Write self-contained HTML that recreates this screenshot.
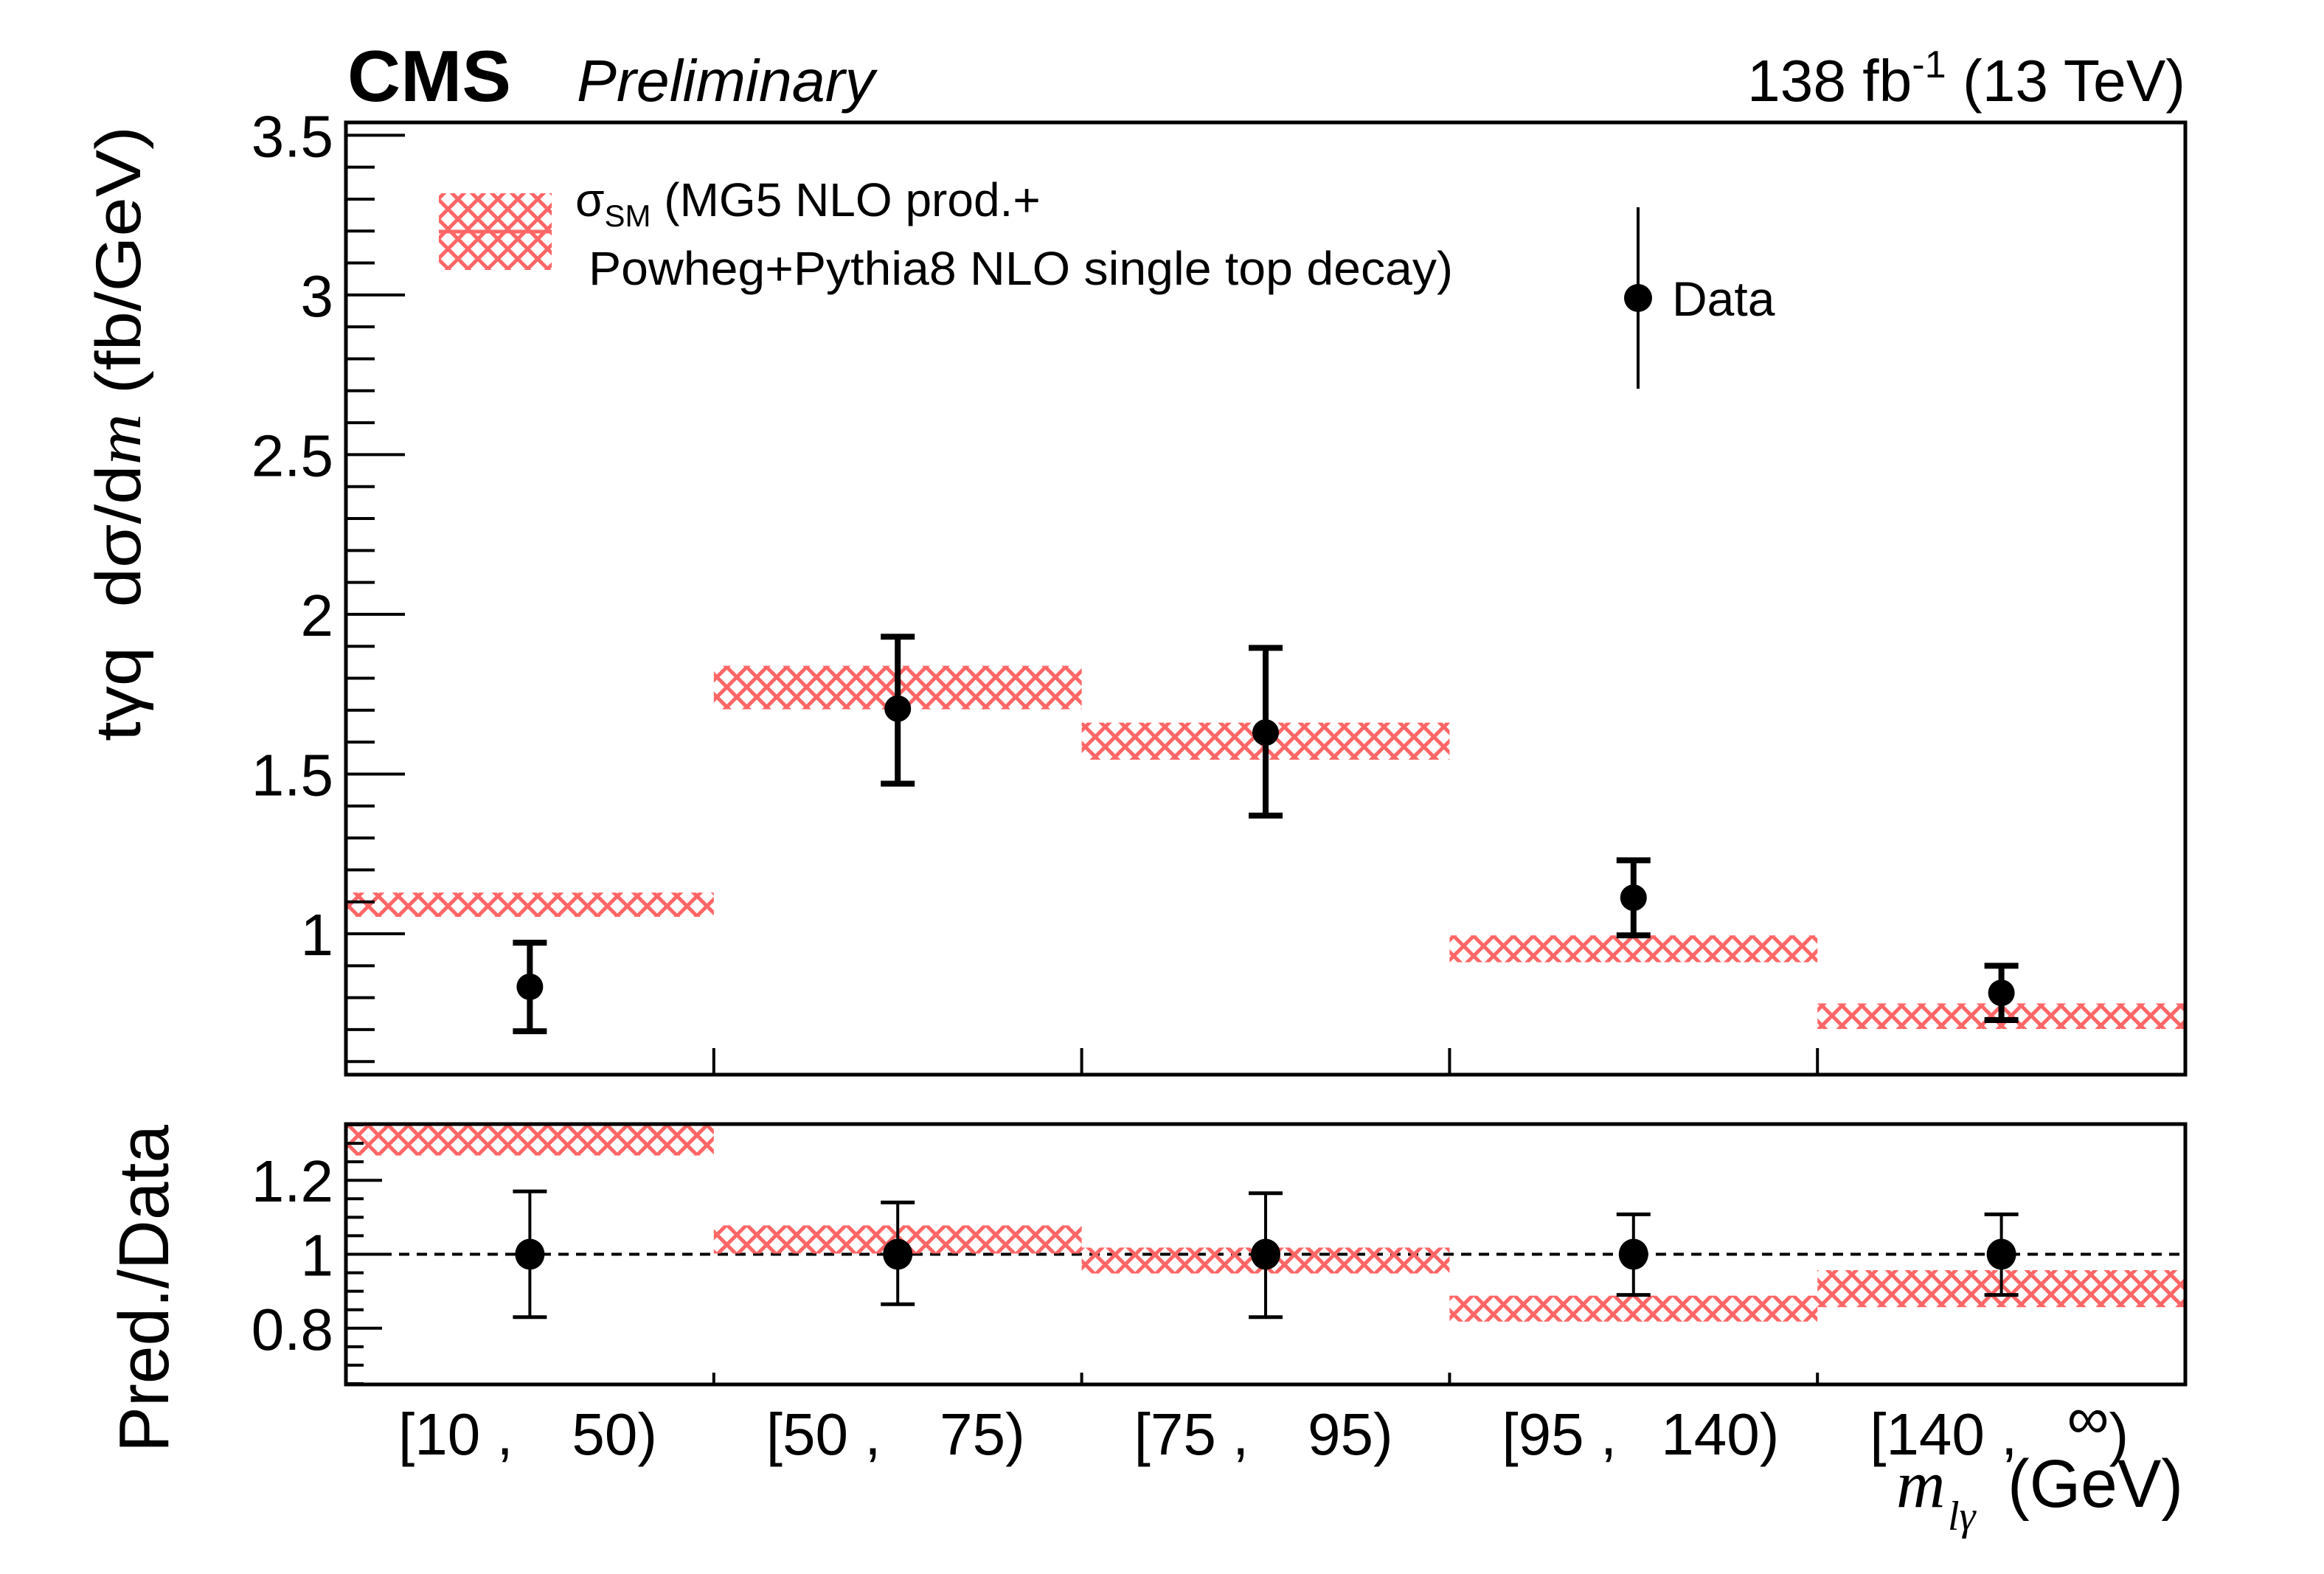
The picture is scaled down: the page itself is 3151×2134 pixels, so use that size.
<!DOCTYPE html>
<html><head><meta charset="utf-8"><style>
html,body{margin:0;padding:0;background:#fff;}
svg{display:block;font-family:"Liberation Sans",sans-serif;}
</style></head><body>
<svg id="chart" xmlns="http://www.w3.org/2000/svg" width="3151" height="2134" viewBox="0 0 3151 2134">
<defs>
<pattern id="hatch" patternUnits="userSpaceOnUse" width="27" height="27">
<path d="M0,0 L27,27 M27,0 L0,27" stroke="#ff6666" stroke-width="5" fill="none"/>
</pattern>
</defs>
<rect width="3151" height="2134" fill="#fff"/>
<g id="main"></g>
<text x="471" y="137" font-size="98" font-weight="bold" textLength="222" lengthAdjust="spacingAndGlyphs">CMS</text>
<text x="782" y="137" font-size="80" font-style="italic" textLength="404" lengthAdjust="spacingAndGlyphs">Preliminary</text>
<text x="2963" y="137" font-size="80" text-anchor="end" textLength="594" lengthAdjust="spacingAndGlyphs">138 fb<tspan dy="-32" font-size="52">-1</tspan><tspan dy="32"> (13 TeV)</tspan></text>
<text transform="translate(190,1005) rotate(-90)" font-size="86" textLength="834" lengthAdjust="spacingAndGlyphs">tγq&#160; dσ/d<tspan font-family="Liberation Serif,serif" font-style="italic">m</tspan> (fb/GeV)</text>
<text transform="translate(228,1969) rotate(-90)" font-size="96" textLength="444" lengthAdjust="spacingAndGlyphs">Pred./Data</text>
<g>
<text x="2571" y="2043" font-size="92" font-family="Liberation Serif,serif" font-style="italic">m</text>
<text x="2641" y="2074" font-size="56" font-family="Liberation Serif,serif" font-style="italic">lγ</text>
<text x="2722" y="2043" font-size="92" textLength="238" lengthAdjust="spacingAndGlyphs">(GeV)</text>
</g>
<g>
<rect x="595" y="262" width="153" height="104" fill="url(#hatch)"/>
<line x1="595" y1="314" x2="748" y2="314" stroke="#ff6666" stroke-width="5"/>
<text x="780" y="293" font-size="64">σ<tspan font-size="42" dy="14">SM</tspan><tspan dy="-14"> (MG5 NLO prod.+</tspan></text>
<text x="798" y="386" font-size="64" textLength="1172" lengthAdjust="spacingAndGlyphs">Powheg+Pythia8 NLO single top decay)</text>
<line x1="2221" y1="281" x2="2221" y2="527" stroke="#000" stroke-width="4"/>
<circle cx="2221" cy="404" r="19"/>
<text x="2267" y="428" font-size="66">Data</text>
</g>
</svg>
<script>
const binLabelsLo = ["[10 ,", "[50 ,", "[75 ,", "[95 ,", "[140 ,"];
const binLabelsHi = ["50)", "75)", "95)", "140)", "∞)"];
const predVals = [1.091, 1.771, 1.603, 0.953, 0.742];
const predErrs = [0.038, 0.068, 0.058, 0.042, 0.040];
const dataVals = [0.834, 1.705, 1.630, 1.113, 0.815];
const dataUp = [0.972, 1.930, 1.895, 1.230, 0.900];
const dataDown = [0.695, 1.470, 1.370, 0.995, 0.730];
const ratioVals = [1.317, 1.040, 0.983, 0.853, 0.907];
const ratioErrs = [0.05, 0.038, 0.035, 0.035, 0.05];
const ratioUp = [1.170, 1.140, 1.165, 1.108, 1.108];
const ratioDown = [0.830, 0.865, 0.830, 0.890, 0.890];
const upperTicks = [1, 1.5, 2, 2.5, 3, 3.5];
const upperTickLabels = ["1", "1.5", "2", "2.5", "3", "3.5"];
const lowerTicks = [0.8, 1, 1.2];
const lowerTickLabels = ["0.8", "1", "1.2"];

const NS = "http://www.w3.org/2000/svg";
const g = document.getElementById('main');
const X0 = 469, X1 = 2963, NB = 5;
const U = {top:166, bot:1457, min:0.559, max:3.54};
const L = {top:1524, bot:1877, min:0.648, max:1.352};
const binLabelHiEnd = [422, 422, 422, 447, 422];
const xb = i => X0 + (X1 - X0) * i / NB;
const yU = v => U.bot - (v - U.min) / (U.max - U.min) * (U.bot - U.top);
const yL = v => L.bot - (v - L.min) / (L.max - L.min) * (L.bot - L.top);
function el(tag, attrs, parent){ const e=document.createElementNS(NS,tag); for(const k in attrs) e.setAttribute(k,attrs[k]); (parent||g).appendChild(e); return e; }

const defs = document.querySelector('defs');
const cu = el('clipPath',{id:'cu'},defs); el('rect',{x:X0,y:U.top,width:X1-X0,height:U.bot-U.top},cu);
const cl = el('clipPath',{id:'cl'},defs); el('rect',{x:X0,y:L.top,width:X1-X0,height:L.bot-L.top},cl);

const gu = el('g',{'clip-path':'url(#cu)'});


const gl = el('g',{'clip-path':'url(#cl)'});



const dl = el('line',{x1:X0,x2:X1,y1:yL(1),y2:yL(1),stroke:'#000','stroke-width':4,'stroke-dasharray':'14,10'},gl);



for(let i=0;i<NB;i++){
  const a=xb(i), b=xb(i+1), c=(a+b)/2;
  const r = el('rect',{x:a,y:yU(predVals[i]+predErrs[i]),width:b-a,height:yU(predVals[i]-predErrs[i])-yU(predVals[i]+predErrs[i]),fill:'url(#hatch)'},gu);
  
  
  const rr = el('rect',{x:a,y:yL(ratioVals[i]+ratioErrs[i]),width:b-a,height:yL(ratioVals[i]-ratioErrs[i])-yL(ratioVals[i]+ratioErrs[i]),fill:'url(#hatch)'},gl);
  
  

  const dg = el('g',{},gu);
  
  
  el('line',{x1:c,x2:c,y1:yU(dataUp[i]),y2:yU(dataDown[i]),stroke:'#000','stroke-width':8},dg);
  el('line',{x1:c-23,x2:c+23,y1:yU(dataUp[i]),y2:yU(dataUp[i]),stroke:'#000','stroke-width':8},dg);
  el('line',{x1:c-23,x2:c+23,y1:yU(dataDown[i]),y2:yU(dataDown[i]),stroke:'#000','stroke-width':8},dg);
  el('circle',{cx:c,cy:yU(dataVals[i]),r:18},dg);

  const lg = el('g',{},gl);
  
  
  el('line',{x1:c,x2:c,y1:yL(ratioUp[i]),y2:yL(ratioDown[i]),stroke:'#000','stroke-width':4},lg);
  el('line',{x1:c-23,x2:c+23,y1:yL(ratioUp[i]),y2:yL(ratioUp[i]),stroke:'#000','stroke-width':5},lg);
  el('line',{x1:c-23,x2:c+23,y1:yL(ratioDown[i]),y2:yL(ratioDown[i]),stroke:'#000','stroke-width':5},lg);
  el('ellipse',{cx:c,cy:yL(1),rx:20,ry:21},lg);

  const t1 = el('text',{x:a+71,y:1972,'font-size':80});
  t1.textContent = binLabelsLo[i];
  
  
  const isInf = binLabelsHi[i].startsWith('∞');
  const t2 = el('text',{x:a+binLabelHiEnd[i],y:1972,'font-size':80,'text-anchor':'end'});
  if(isInf){
    const s1=el('tspan',{dy:-22},t2); s1.textContent='∞';
    const s2=el('tspan',{dy:22},t2); s2.textContent=')';
  } else t2.textContent = binLabelsHi[i];
  
  

  if(i>0){
    el('line',{x1:a,x2:a,y1:U.bot,y2:U.bot-36,stroke:'#000','stroke-width':4});
    el('line',{x1:a,x2:a,y1:L.bot,y2:L.bot-16,stroke:'#000','stroke-width':4});
  }
}

for(let v=0.6; v<=3.5001; v+=0.1){
  const vv=Math.round(v*10)/10; const major = Math.abs(vv*2-Math.round(vv*2))<1e-6;
  el('line',{x1:X0,x2:X0+(major?80:39),y1:yU(vv),y2:yU(vv),stroke:'#000','stroke-width':4});
}
upperTicks.forEach((v,k)=>{
  const t=el('text',{x:452,y:yU(v)+29,'font-size':80,'text-anchor':'end'});
  t.textContent=upperTickLabels[k];
  
  
});
for(let v=0.65; v<=1.351; v+=0.05){
  const vv=Math.round(v*100)/100; const major = Math.abs(vv*5-Math.round(vv*5))<1e-6;
  el('line',{x1:X0,x2:X0+(major?49:24),y1:yL(vv),y2:yL(vv),stroke:'#000','stroke-width':4});
}
lowerTicks.forEach((v,k)=>{
  const t=el('text',{x:452,y:yL(v)+29,'font-size':80,'text-anchor':'end'});
  t.textContent=lowerTickLabels[k];
  
  
});

const f1 = el('rect',{x:X0,y:U.top,width:X1-X0,height:U.bot-U.top,fill:'none',stroke:'#000','stroke-width':5});


const f2 = el('rect',{x:X0,y:L.top,width:X1-X0,height:L.bot-L.top,fill:'none',stroke:'#000','stroke-width':5});


</script>
</body></html>
